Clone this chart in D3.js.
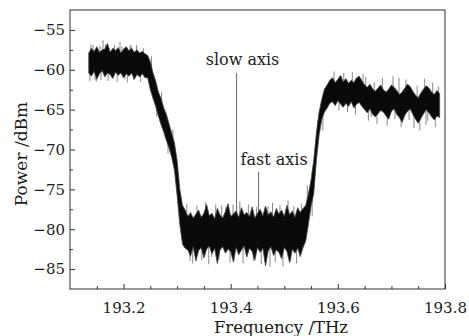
<!DOCTYPE html>
<html lang="en">
<head>
<meta charset="UTF-8">
<title>Power spectrum</title>
<style>
  body { margin: 0; background: #fff; }
  svg text { font-family: "DejaVu Serif", serif; fill: #1a1a1a; }
  .axis path, .axis line { stroke: #333; }
  .axis .domain { display: none; }
</style>
</head>
<body>
<svg id="chart" width="469" height="336"></svg>
<script src="https://cdn.jsdelivr.net/npm/d3@7"></script>
<script>
const freq = [
  193.135, 193.140, 193.145, 193.150, 193.155, 193.160, 193.165, 193.170, 193.175, 193.180,
  193.185, 193.190, 193.195, 193.200, 193.205, 193.210, 193.215, 193.220, 193.225, 193.230,
  193.235, 193.240, 193.245, 193.250, 193.255, 193.260, 193.265, 193.270, 193.275, 193.280,
  193.285, 193.290, 193.295, 193.300, 193.305, 193.310, 193.315, 193.320, 193.325, 193.330,
  193.335, 193.340, 193.345, 193.350, 193.355, 193.360, 193.365, 193.370, 193.375, 193.380,
  193.385, 193.390, 193.395, 193.400, 193.405, 193.410, 193.415, 193.420, 193.425, 193.430,
  193.435, 193.440, 193.445, 193.450, 193.455, 193.460, 193.465, 193.470, 193.475, 193.480,
  193.485, 193.490, 193.495, 193.500, 193.505, 193.510, 193.515, 193.520, 193.525, 193.530,
  193.535, 193.540, 193.545, 193.550, 193.555, 193.560, 193.565, 193.570, 193.575, 193.580,
  193.585, 193.590, 193.595, 193.600, 193.605, 193.610, 193.615, 193.620, 193.625, 193.630,
  193.635, 193.640, 193.645, 193.650, 193.655, 193.660, 193.665, 193.670, 193.675, 193.680,
  193.685, 193.690, 193.695, 193.700, 193.705, 193.710, 193.715, 193.720, 193.725, 193.730,
  193.735, 193.740, 193.745, 193.750, 193.755, 193.760, 193.765, 193.770, 193.775, 193.780,
  193.785, 193.790
];
const upper = [
  -57.9, -57.3, -57.7, -57.1, -57.8, -57.5, -57.4, -56.7, -57.8, -57.3,
  -57.6, -57.2, -57.9, -57.4, -57.1, -57.6, -57.3, -57.8, -57.5, -57.9,
  -57.7, -58.0, -58.2, -59.0, -60.4, -61.4, -62.8, -63.6, -64.8, -65.6,
  -66.8, -68.0, -69.2, -71.4, -75.0, -77.0, -77.6, -78.4, -77.9, -78.6,
  -78.1, -77.6, -78.5, -78.0, -76.9, -78.3, -78.0, -78.7, -77.4, -78.2,
  -78.6, -77.8, -76.8, -78.4, -78.1, -77.7, -78.5, -77.3, -78.2, -77.9,
  -78.4, -77.2, -78.6, -78.0, -77.5, -78.3, -77.1, -78.2, -77.8, -78.5,
  -77.4, -78.1, -77.6, -78.4, -77.0, -78.2, -77.7, -78.5, -77.3, -77.9,
  -77.4, -77.0, -75.6, -73.8, -71.3, -67.9, -65.3, -63.7, -62.4, -61.9,
  -61.3, -61.0, -61.6, -61.2, -60.7, -61.5, -61.1, -61.7, -61.3, -61.6,
  -61.0, -60.8, -61.4, -61.9, -62.2, -61.8, -62.4, -62.7, -62.3, -61.9,
  -62.5, -62.8, -62.4, -61.9, -62.2, -62.6, -63.1, -62.8, -62.3, -61.8,
  -62.1, -62.7, -63.2, -63.5, -62.9, -62.4, -62.0, -62.3, -62.8, -63.1,
  -62.6, -63.0
];
const lower = [
  -60.4, -60.8, -60.2, -61.2, -60.5, -60.1, -60.9, -60.4, -60.6, -61.1,
  -60.3, -60.7, -60.4, -61.0, -60.5, -60.8, -60.4, -61.2, -60.6, -60.9,
  -60.5, -61.0, -61.0, -62.5, -63.6, -64.6, -65.8, -66.9, -67.8, -68.9,
  -69.8, -71.0, -72.6, -75.8, -79.4, -81.9, -82.4, -82.6, -83.4, -82.2,
  -84.0, -82.7, -82.3, -83.6, -82.5, -82.1, -83.1, -82.4, -84.3, -82.6,
  -82.2, -83.0, -82.5, -82.8, -84.1, -82.3, -83.2, -82.6, -82.1, -83.5,
  -82.4, -82.8, -83.9, -82.3, -82.9, -82.4, -84.6, -82.7, -82.2, -83.3,
  -82.6, -82.9, -83.7, -82.3, -82.8, -84.2, -82.5, -83.0, -82.4, -83.4,
  -82.3, -81.5, -79.4, -77.1, -75.5, -71.3, -68.2, -66.2, -65.3, -64.8,
  -64.2, -64.0, -64.5, -63.9, -64.3, -64.7, -64.2, -64.6, -64.0, -64.8,
  -64.3, -64.1, -64.6, -65.0, -65.4, -64.9, -65.6, -65.9, -65.5, -65.1,
  -65.3, -65.8, -66.2, -65.2, -64.9, -65.6, -66.0, -66.6, -65.7, -65.2,
  -64.9, -65.6, -66.2, -66.7, -66.1, -65.5, -65.0, -65.4, -65.9, -66.3,
  -65.8, -66.0
];
// isolated noise spikes sticking out of the band (frequency, tip value)
const spikeFreq = [
  193.137, 193.139, 193.143, 193.1467, 193.149, 193.156, 193.158, 193.1616, 193.166, 193.171,
  193.1784, 193.183, 193.188, 193.1933, 193.197, 193.2027, 193.207, 193.212, 193.2139, 193.219,
  193.224, 193.232, 193.237,
  193.252, 193.262, 193.271, 193.283, 193.292, 193.298,
  193.318, 193.324, 193.329, 193.337, 193.346, 193.353, 193.359, 193.3645, 193.372, 193.378,
  193.3832, 193.391, 193.3987, 193.4043, 193.406, 193.417, 193.423, 193.433, 193.442, 193.448,
  193.457, 193.464, 193.4696, 193.4733, 193.478, 193.483, 193.492, 193.4976, 193.507, 193.512,
  193.518, 193.523, 193.5294, 193.532,
  193.543, 193.552, 193.562, 193.572,
  193.593, 193.602, 193.611, 193.618, 193.627, 193.633, 193.647, 193.652, 193.657, 193.6619,
  193.668, 193.673, 193.683, 193.692, 193.703, 193.7067, 193.7141, 193.718, 193.727, 193.733,
  193.7421, 193.748, 193.753, 193.762, 193.7645, 193.768, 193.777, 193.782, 193.788
];
const spikeTip = [
  -61.4, -56.8, -56.9, -61.3, -61.5, -57.0, -61.3, -56.3, -56.8, -61.4,
  -61.0, -56.9, -61.5, -56.5, -57.1, -61.2, -61.6, -57.0, -56.9, -61.3,
  -56.9, -61.5, -57.3,
  -58.3, -65.9, -62.8, -70.5, -67.5, -74.0,
  -76.8, -84.0, -84.3, -77.0, -83.9, -76.6, -84.4, -83.5, -76.9, -83.8,
  -77.0, -77.2, -84.2, -76.9, -84.0, -76.5, -84.3, -76.9, -84.0, -77.2,
  -84.4, -84.1, -77.1, -84.7, -76.7, -84.1, -77.0, -84.7, -76.4, -84.0,
  -77.1, -84.3, -83.5, -76.8,
  -74.5, -78.4, -66.4, -67.6,
  -60.2, -65.1, -60.4, -65.3, -60.3, -65.6, -60.5, -60.9, -66.4, -65.9,
  -61.6, -66.8, -61.0, -67.0, -60.8, -66.2, -61.0, -67.2, -61.2, -66.3,
  -67.3, -62.0, -67.6, -61.1, -66.9, -66.4, -61.6, -67.2, -62.1
];

// annotations
const markFreq = [193.411, 193.452];
const markTop = [-60.4, -72.8];
const markBottom = [-79.5, -79.5];
const markLabel = ["slow axis", "fast axis"];
const labelFreq = [193.422, 193.481];
const labelPower = [-59.4, -71.95];

// ticks
const xTicks = [193.2, 193.4, 193.6, 193.8];
const xMinor = [193.15, 193.25, 193.3, 193.35, 193.45, 193.5, 193.55, 193.65, 193.7, 193.75];
const yTicks = [-85, -80, -75, -70, -65, -60, -55];
const yMinor = [-82.5, -77.5, -72.5, -67.5, -62.5, -57.5];

const svg = d3.select("#chart");
const plotLeft = 70, plotRight = 445, plotTop = 10, plotBottom = 289;

const x = d3.scaleLinear().domain([193.1, 193.8]).range([plotLeft, plotRight]);
const y = d3.scaleLinear().domain([-87.5, -52.5]).range([plotBottom, plotTop]);

// annotation lines (under the trace)
svg.selectAll(".mark")
  .data(markFreq)
  .enter().append("line")
  .attr("class", "mark")
  .attr("x1", d => x(d)).attr("x2", d => x(d))
  .attr("y1", (d, i) => y(markTop[i]))
  .attr("y2", (d, i) => y(markBottom[i]))
  .attr("stroke", "#666")
  .attr("stroke-width", 1);

// spikes, anchored in the middle of the band
svg.selectAll(".spike")
  .data(spikeFreq)
  .enter().append("line")
  .attr("class", "spike")
  .attr("x1", d => x(d)).attr("x2", d => x(d))
  .attr("y1", (d, i) => y(spikeTip[i]))
  .attr("y2", d => {
    const j = d3.bisectCenter(freq, d);
    return y((upper[j] + lower[j]) / 2);
  })
  .attr("stroke", "#555")
  .attr("stroke-width", 0.7);

// trace band
const band = d3.area()
  .x((d, i) => x(freq[i]))
  .y0((d, i) => y(lower[i]))
  .y1(d => y(d));

svg.append("path")
  .datum(upper)
  .attr("d", band)
  .attr("fill", "#0a0a0a")
  .attr("stroke", "#444")
  .attr("stroke-width", 0.8);

// labels for the annotations
svg.selectAll(".mark-label")
  .data(markLabel)
  .enter().append("text")
  .attr("class", "mark-label")
  .attr("x", (d, i) => x(labelFreq[i]))
  .attr("y", (d, i) => y(labelPower[i]))
  .attr("text-anchor", "middle")
  .style("font-size", "16px")
  .text(d => d);

// axes, ticks pointing inward
const fmtX = d3.format(".1f");
svg.append("g")
  .attr("class", "axis")
  .attr("transform", `translate(0,${plotBottom})`)
  .call(d3.axisBottom(x).tickValues(xTicks).tickSize(-5).tickPadding(13).tickFormat(fmtX))
  .call(g => g.selectAll("text").style("font-size", "15px").style("font-family", "DejaVu Serif"));

svg.append("g")
  .attr("class", "axis")
  .attr("transform", `translate(0,${plotBottom})`)
  .call(d3.axisBottom(x).tickValues(xMinor).tickSize(-3).tickFormat(""));

svg.append("g")
  .attr("class", "axis")
  .attr("transform", `translate(${plotLeft},0)`)
  .call(d3.axisLeft(y).tickValues(yTicks).tickSize(-5).tickPadding(5))
  .call(g => g.selectAll("text").style("font-size", "15px").style("font-family", "DejaVu Serif"));

svg.append("g")
  .attr("class", "axis")
  .attr("transform", `translate(${plotLeft},0)`)
  .call(d3.axisLeft(y).tickValues(yMinor).tickSize(-3).tickFormat(""));

// frame
svg.append("rect")
  .attr("x", plotLeft).attr("y", plotTop)
  .attr("width", plotRight - plotLeft).attr("height", plotBottom - plotTop)
  .attr("fill", "none")
  .attr("stroke", "#333")
  .attr("stroke-width", 1);

// axis titles
svg.append("text")
  .attr("x", 281).attr("y", 332.5)
  .attr("text-anchor", "middle")
  .style("font-size", "16.5px")
  .text("Frequency /THz");

svg.append("text")
  .attr("transform", "translate(27,154) rotate(-90)")
  .attr("text-anchor", "middle")
  .style("font-size", "17px")
  .text("Power /dBm");
</script>
</body>
</html>
